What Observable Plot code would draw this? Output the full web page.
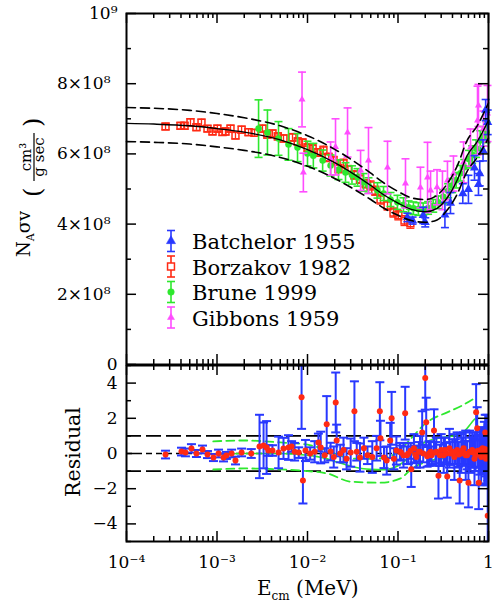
<!DOCTYPE html>
<html><head><meta charset="utf-8">
<script src="https://cdn.jsdelivr.net/npm/d3@7"></script>
<script src="https://cdn.jsdelivr.net/npm/@observablehq/plot@0.6"></script>
<style>
html,body{margin:0;padding:0;background:#fff;}
#wrap{position:relative;width:493px;height:605px;overflow:hidden;}
#wrap svg{position:absolute;left:0;overflow:visible;}
</style></head><body><div id="wrap"></div>
<script>
// ---------- data (top panel values in units of 1e8 cm^3/(g s)) ----------
const borzE = [2.70e-4,3.95e-4,4.38e-4,5.09e-4,5.93e-4,6.74e-4,7.85e-4,8.92e-4,1.01e-3,1.15e-3,1.24e-3,1.41e-3,1.60e-3,1.87e-3,2.23e-3,2.6e-3,3.18e-3,3.6e-3,4.10e-3,4.7e-3,5.43e-3,6.83e-3,7.8e-3,8.81e-3,1.0e-2,1.14e-2,1.29e-2,1.50e-2,1.71e-2,1.94e-2,2.20e-2,2.50e-2,2.8e-2,3.3e-2,3.8e-2,4.4e-2,4.97e-2,5.6e-2,6.41e-2,7.66e-2,8.92e-2,0.101,0.118,0.137];
const borzV = [6.78,6.80,6.80,6.90,6.76,6.89,6.72,6.64,6.72,6.62,6.64,6.72,6.52,6.69,6.62,6.60,6.72,6.55,6.58,6.50,6.44,6.47,6.35,6.32,6.18,6.15,6.04,6.10,5.90,5.81,5.58,5.73,5.55,5.40,5.28,5.15,5.10,4.95,4.70,4.53,4.33,4.25,4.10,4.02];
const borzErr = [0.09,0.09,0.09,0.10,0.09,0.10,0.09,0.09,0.10,0.09,0.10,0.10,0.09,0.10,0.10,0.10,0.10,0.10,0.10,0.10,0.10,0.11,0.11,0.11,0.11,0.11,0.11,0.12,0.12,0.12,0.12,0.12,0.12,0.12,0.12,0.12,0.13,0.13,0.13,0.13,0.13,0.13,0.14,0.14];

const bruneE = [2.88e-3,3.61e-3,4.78e-3,6.17e-3,7.76e-3,1.0e-2,1.16e-2,1.47e-2,1.80e-2,2.2e-2,2.63e-2,3.1e-2,3.57e-2,4.16e-2,4.72e-2,5.93e-2,6.92e-2,8.26e-2,9.86e-2,0.115,0.131,0.148,0.168,0.19,0.215,0.245,0.278,0.316,0.358,0.397,0.44,0.49,0.54,0.61,0.66,0.73,0.81,0.88,0.95];
const bruneV = [6.72,6.61,6.44,6.27,6.18,6.01,5.95,5.81,5.67,5.55,5.47,5.40,5.33,5.19,5.10,4.96,4.87,4.70,4.62,4.55,4.48,4.45,4.43,4.42,4.46,4.52,4.62,4.78,4.95,5.10,5.25,5.45,5.62,5.85,5.98,6.15,6.38,6.50,6.62];
const bruneErr = [0.82,0.64,0.48,0.45,0.40,0.35,0.35,0.30,0.30,0.28,0.28,0.26,0.25,0.25,0.22,0.22,0.20,0.20,0.20,0.20,0.18,0.18,0.18,0.18,0.18,0.18,0.18,0.20,0.20,0.20,0.22,0.22,0.22,0.25,0.25,0.25,0.28,0.28,0.30];

const gibE = [8.7e-3,9.0e-3,1.80e-2,2.04e-2,2.77e-2,3.86e-2,4.72e-2,7.66e-2,0.121,0.177,0.212,0.229,0.27,0.31,0.352,0.41,0.53,0.633,0.756,0.775,0.88,0.975];
const gibV = [7.55,5.47,5.87,6.20,6.61,5.53,5.81,5.61,5.16,5.04,5.33,4.96,5.05,4.96,5.24,5.44,5.76,6.18,6.95,7.38,6.72,7.15];
const gibErr = [0.78,0.55,0.47,0.80,0.70,0.57,0.94,0.75,0.70,0.58,1.00,0.55,0.50,0.55,0.55,0.50,0.58,0.53,0.98,0.60,0.50,0.80];

const batE = [0.127,0.145,0.19,0.2,0.33,0.38,0.52,0.6,0.7,0.775,0.8,0.87,0.93,0.98];
const batV = [4.19,4.10,4.25,4.05,4.26,4.60,4.87,4.99,5.60,5.13,5.44,6.10,7.25,6.90];
const batErr = [0.12,0.10,0.23,0.13,0.36,0.30,0.28,0.40,0.35,0.31,0.35,0.30,0.30,0.35];

// fit curve and its uncertainty band
const fitE  = [1e-4,2e-4,5e-4,1e-3,2e-3,5e-3,1e-2,2e-2,3e-2,5e-2,7e-2,0.1,0.14,0.2,0.27,0.35,0.45,0.58,0.75,1.0];
const fitMid = [6.87,6.85,6.80,6.72,6.62,6.40,6.12,5.75,5.48,5.10,4.83,4.60,4.42,4.35,4.45,4.75,5.25,5.95,6.35,6.95];
const fitHi  = [7.32,7.30,7.24,7.15,7.03,6.80,6.52,6.13,5.85,5.45,5.17,4.93,4.75,4.70,4.82,5.15,5.65,6.38,6.80,7.45];
const fitLo  = [6.35,6.33,6.28,6.20,6.10,5.90,5.65,5.30,5.05,4.70,4.45,4.25,4.10,4.05,4.12,4.40,4.85,5.50,5.90,6.45];

// residuals
const resE = [2.70e-4,4.05e-4,4.48e-4,5.22e-4,5.93e-4,6.91e-4,7.85e-4,9.14e-4,1.04e-3,1.18e-3,1.27e-3,1.45e-3,1.60e-3,1.87e-3,2.39e-3,
2.95e-3,3.27e-3,3.53e-3,3.70e-3,4.10e-3,4.79e-3,5.43e-3,6.17e-3,6.67e-3,7.2e-3,8.0e-3,8.6e-3,8.9e-3,
9.5e-3,1.07e-2,1.2e-2,1.32e-2,1.4e-2,1.55e-2,1.63e-2,1.8e-2,1.95e-2,2.05e-2,2.1e-2,2.3e-2,2.5e-2,2.7e-2,3.0e-2,3.3e-2,3.5e-2,3.8e-2,4.2e-2,4.6e-2,5.2e-2,5.8e-2,6.3e-2,6.4e-2,7.0e-2,7.5e-2,8.2e-2,8.5e-2,9.0e-2,9.6e-2,
0.105,0.115,0.12,0.13,0.14,0.15,0.16,0.175,0.185,0.2,0.205,0.22,0.235,0.25,0.265,0.28,0.3,0.32,0.34,0.35,0.37,0.4,0.42,0.45,0.48,0.5,0.53,0.56,0.6,0.62,0.66,0.7,0.73,0.75,0.78,0.8,0.83,0.86,0.9,0.92,0.94,0.96,0.98,0.99,
0.108,0.125,0.138,0.155,0.17,0.19,0.21,0.23,0.26,0.29,0.33,0.38,0.43,0.47,0.51,0.55,0.58,0.64,0.68,0.72,0.76,0.79,0.82,0.85,0.88,0.91,0.93,0.95,0.97];
const resV = [-0.06,0.11,0.06,0.29,0.0,0.23,-0.06,-0.23,0.0,-0.23,-0.11,0.0,-0.4,0.06,0.0,
0.40,0.46,0.34,0.17,0.17,0.06,0.29,0.34,0.40,0.1,0.05,3.2,-1.54,
0.17,0.0,0.1,0.63,0.34,-0.1,1.66,0.11,-0.2,2.9,0.74,0.0,0.2,-0.3,0.05,2.4,0.1,-0.23,0.3,-0.1,-0.2,0.3,2.4,0.86,-0.23,-0.4,0.74,2.0,-0.3,0.17,
0.1,-0.1,2.29,0.0,-0.9,0.3,-0.2,0.1,1.2,4.29,1.77,0.0,-0.1,1.31,0.1,-1.26,0.2,-0.1,0.0,-1.31,0.3,0.1,-0.2,0.2,-1.54,0.0,0.3,-0.1,-1.66,0.1,0.2,-0.3,2.34,1.43,-1.66,0.1,-0.2,0.3,0.0,1.2,-0.3,0.2,-3.54,0.1,
0.05,-0.1,0.15,-0.05,0.1,0.0,-0.15,0.1,0.05,-0.1,0.2,0.0,0.1,-0.05,0.15,0.0,-0.1,0.1,0.05,-0.1,0.15,0.0,0.2,-0.05,0.1,0.25,-0.1,0.05,0.15];
const resErr = [0.22,0.22,0.22,0.24,0.2,0.22,0.2,0.2,0.22,0.22,0.2,0.22,0.22,0.22,0.25,
1.8,1.3,1.5,0.3,0.3,0.9,0.6,0.7,0.3,0.5,0.3,1.8,1.3,
0.6,0.35,0.6,0.5,0.9,0.4,1.6,0.5,0.6,1.7,0.9,0.5,0.7,0.6,0.8,1.7,0.5,0.8,0.6,0.5,0.9,0.7,1.65,1.0,0.6,0.8,1.0,1.5,0.6,0.8,
0.5,0.7,1.5,0.6,1.0,0.8,0.6,0.9,1.2,1.8,1.4,0.7,0.5,1.2,0.8,1.3,0.9,1.0,0.6,1.2,1.1,0.7,1.3,1.0,1.3,1.1,0.9,1.4,1.4,1.2,1.0,1.5,1.6,1.2,1.5,1.3,1.6,1.2,1.8,1.0,1.4,2.0,2.0,1.5,
0.4,0.5,0.45,0.5,0.55,0.5,0.6,0.55,0.6,0.6,0.7,0.65,0.7,0.7,0.75,0.7,0.8,0.8,0.85,0.9,0.9,1.0,1.0,1.05,1.1,1.1,1.2,1.2,1.3];

// residual-panel fit curves
const gMidE = [9.1e-4,2e-3,5e-3,1e-2,1.5e-2,2e-2,3e-2,5e-2,7e-2,0.1,0.13,0.16,0.2,0.3,0.45,0.55,0.65,0.7];
const gMid  = [-0.05,0.0,0.0,-0.1,-0.25,-0.45,-0.72,-0.9,-0.92,-0.7,-0.25,0.25,0.65,0.9,1.05,1.3,1.75,1.95];
const gHiE  = [9.1e-4,2e-3,5e-3,1e-2,1.5e-2,2e-2,3e-2,5e-2,7e-2,0.1,0.14,0.2,0.35,0.5,0.68];
const gHi   = [0.69,0.74,0.63,0.5,0.25,0.0,-0.28,-0.3,-0.25,0.1,0.86,1.7,2.34,2.7,3.1];
const gLoE  = [9.1e-4,2e-3,5e-3,1e-2,1.67e-2,3e-2,6.4e-2,0.105,0.148,0.2,0.29,0.46,0.68];
const gLo   = [-0.91,-0.85,-0.9,-1.0,-1.14,-1.6,-1.66,-1.43,-0.8,-0.5,-0.29,-0.23,0.06];
const refBand = [-1, 1];
const refZero = [0];

// ticks and labels
const xTicks = [1e-4,1e-3,1e-2,1e-1,1];
const xLabels = ["10\u207B\u2074","10\u207B\u00B3","10\u207B\u00B2","10\u207B\u00B9","1"];
const xMinor = [2,3,4,5,6,7,8,9].flatMap(m => [1e-4,1e-3,1e-2,1e-1].map(d => m*d));
const topYTicks = [0,2,4,6,8,10];
const topYLabels = ["0","2\u00D710\u2078","4\u00D710\u2078","6\u00D710\u2078","8\u00D710\u2078","10\u2079"];
const topYMinor = [1,3,5,7,9];
const resYTicks = [-4,-2,0,2,4];
const resYLabels = ["\u22124","\u22122","0","2","4"];
const resYMinor = [-5,-3,-1,1,3,5];
const legendNames = ["Batchelor 1955","Borzakov 1982","Brune 1999","Gibbons 1959"];

// ---------- build ----------
const RED = "#ff2a14", GREEN = "#2ee82e", MAG = "#ff4cff", BLUE = "#2838ff";
const FONT = "'DejaVu Serif', serif";
const W = 493, ML = 126, MR = 5;
const topH = 365, topMT = 13, topMB = 1;
const botH = 241, botMT = 1, botMB = 64;
const pw = W - ML - MR, tph = topH - topMT - topMB, bph = botH - botMT - botMB;

const tbl = (E, V, Er) => E.map((e, i) => ({E: e, v: V[i], e: Er ? Er[i] : 0}));
const borz = tbl(borzE, borzV, borzErr), brune = tbl(bruneE, bruneV, bruneErr);
const gib = tbl(gibE, gibV, gibErr), bat = tbl(batE, batV, batErr);
const res = tbl(resE, resV, resErr);
const fMid = tbl(fitE, fitMid), fHi = tbl(fitE, fitHi), fLo = tbl(fitE, fitLo);
const rMid = tbl(gMidE, gMid), rHi = tbl(gHiE, gHi), rLo = tbl(gLoE, gLo);

const capSym = {draw(ctx, size){ const w = Math.sqrt(size/Math.PI); ctx.moveTo(-w,0); ctx.lineTo(w,0); }};
function errMarks(data, color, sw, capR, extra = {}) {
  return [
    Plot.ruleX(data, {x: "E", y1: d => d.v - d.e, y2: d => d.v + d.e, stroke: color, strokeWidth: sw, ...extra}),
    Plot.dot(data, {x: "E", y: d => d.v + d.e, symbol: capSym, r: capR, stroke: color, strokeWidth: sw, fill: "none", ...extra}),
    Plot.dot(data, {x: "E", y: d => d.v - d.e, symbol: capSym, r: capR, stroke: color, strokeWidth: sw, fill: "none", ...extra})
  ];
}
function frameTicks(ph, majY, minY) {
  const o = {stroke: "black", strokeWidth: 1.5};
  return [
    Plot.tickX(xTicks, {x: d => d, insetTop: ph - 10, ...o}),
    Plot.tickX(xTicks, {x: d => d, insetBottom: ph - 10, ...o}),
    Plot.tickX(xMinor, {x: d => d, insetTop: ph - 5, ...o}),
    Plot.tickX(xMinor, {x: d => d, insetBottom: ph - 5, ...o}),
    Plot.tickY(majY, {y: d => d, insetRight: pw - 10, ...o}),
    Plot.tickY(majY, {y: d => d, insetLeft: pw - 10, ...o}),
    Plot.tickY(minY, {y: d => d, insetRight: pw - 5, ...o}),
    Plot.tickY(minY, {y: d => d, insetLeft: pw - 5, ...o})
  ];
}
const styleObj = {fontFamily: FONT, fontSize: "17px", background: "transparent", overflow: "visible", color: "black"};
const lab = (ticks, labels) => d => labels[ticks.indexOf(d)];

const topPlot = Plot.plot({
  width: W, height: topH, marginLeft: ML, marginRight: MR, marginTop: topMT, marginBottom: topMB,
  style: styleObj,
  x: {type: "log", domain: [1e-4, 1], axis: null},
  y: {domain: [0, 10]},
  marks: [
    ...errMarks(borz, RED, 1.3, 4),
    Plot.dot(borz, {x: "E", y: "v", symbol: "square", r: 3.9, stroke: RED, strokeWidth: 1.5, fill: "none"}),
    ...errMarks(brune, GREEN, 1.6, 4),
    Plot.dot(brune, {x: "E", y: "v", symbol: "circle", r: 3.3, fill: GREEN}),
    ...errMarks(gib, MAG, 1.6, 4),
    Plot.dot(gib, {x: "E", y: "v", symbol: "triangle", r: 2.6, fill: MAG}),
    ...errMarks(bat, BLUE, 1.6, 4),
    Plot.dot(bat, {x: "E", y: "v", symbol: "triangle", r: 3.4, fill: BLUE}),
    Plot.line(fHi, {x: "E", y: "v", curve: "monotone-x", stroke: "black", strokeWidth: 1.6, strokeDasharray: "9,5"}),
    Plot.line(fLo, {x: "E", y: "v", curve: "monotone-x", stroke: "black", strokeWidth: 1.6, strokeDasharray: "9,5"}),
    Plot.line(fMid, {x: "E", y: "v", curve: "monotone-x", stroke: "black", strokeWidth: 1.4}),
    ...frameTicks(tph, topYTicks, topYMinor),
    Plot.axisY([0, 10], {tickSize: 0, tickPadding: 9, tickFormat: lab(topYTicks, topYLabels), label: null}),
    Plot.axisY([2, 4, 6, 8], {tickSize: 0, tickPadding: 16, tickFormat: lab(topYTicks, topYLabels), label: null}),
    Plot.frame({stroke: "black", strokeWidth: 2})
  ]
});

const botPlot = Plot.plot({
  width: W, height: botH, marginLeft: ML, marginRight: MR, marginTop: botMT, marginBottom: botMB,
  style: styleObj,
  x: {type: "log", domain: [1e-4, 1]},
  y: {domain: [-5, 5]},
  marks: [
    Plot.ruleY(refBand, {y: d => d, stroke: "black", strokeWidth: 1.6, strokeDasharray: "15,5"}),
    Plot.ruleY(refZero, {y: d => d, stroke: "black", strokeWidth: 1.6, strokeDasharray: "6,4"}),
    Plot.line(rHi, {x: "E", y: "v", curve: "monotone-x", stroke: GREEN, strokeWidth: 1.8, strokeDasharray: "8,5"}),
    Plot.line(rLo, {x: "E", y: "v", curve: "monotone-x", stroke: GREEN, strokeWidth: 1.8, strokeDasharray: "8,5"}),
    Plot.line(rMid, {x: "E", y: "v", curve: "monotone-x", stroke: GREEN, strokeWidth: 1.6}),
    ...errMarks(res, BLUE, 2, 4.5, {clip: true}),
    Plot.dot(res, {x: "E", y: "v", r: 3, fill: RED, clip: true}),
    ...frameTicks(bph, resYTicks, resYMinor),
    Plot.axisY(resYTicks, {tickSize: 0, tickPadding: 9, tickFormat: lab(resYTicks, resYLabels), label: null}),
    Plot.axisX(xTicks, {tickSize: 0, tickPadding: 14, tickFormat: lab(xTicks, xLabels), label: null}),
    Plot.frame({stroke: "black", strokeWidth: 2})
  ]
});

const wrap = document.getElementById("wrap");
topPlot.style.top = "0px";
botPlot.style.top = "364px";
wrap.appendChild(botPlot);
wrap.appendChild(topPlot);

// ---------- labels and legend ----------
const ts = d3.select(topPlot);
const yl = ts.append("g").attr("transform", "translate(30,257) rotate(-90)")
  .attr("font-family", FONT).attr("fill", "black").attr("text-anchor", "start");
const t1 = yl.append("text").attr("x", 0).attr("y", 0).attr("font-size", 18).attr("text-anchor", "start");
t1.append("tspan").text("N");
t1.append("tspan").attr("font-size", 11).attr("dy", 4).text("A");
t1.append("tspan").attr("dy", -4).text("\u03C3v");
yl.append("text").attr("x", 60).attr("y", 11).attr("font-size", 24).attr("text-anchor", "start").text("(");
yl.append("text").attr("x", 130).attr("y", 11).attr("font-size", 24).attr("text-anchor", "start").text(")");
yl.append("text").attr("x", 100).attr("y", 1).attr("font-size", 15).attr("text-anchor", "middle").text("cm\u00B3");
yl.append("line").attr("x1", 76).attr("x2", 124).attr("y1", 4).attr("y2", 4).attr("stroke", "black").attr("stroke-width", 1.2);
yl.append("text").attr("x", 100).attr("y", 14).attr("font-size", 15).attr("text-anchor", "middle").text("g sec");

const legColors = [BLUE, RED, GREEN, MAG];
const legSyms = [[d3.symbolTriangle, 3.4, true], [d3.symbolSquare, 3.9, false], [d3.symbolCircle, 3.3, true], [d3.symbolTriangle, 2.6, true]];
const legRows = [241, 266.5, 292, 317.5];
const lg = ts.append("g").attr("font-family", FONT).attr("text-anchor", "start");
legendNames.forEach((name, i) => {
  const y = legRows[i], c = legColors[i];
  lg.append("line").attr("x1", 171).attr("x2", 171).attr("y1", y - 10.5).attr("y2", y + 10.5).attr("stroke", c).attr("stroke-width", 1.6);
  lg.append("line").attr("x1", 167).attr("x2", 175).attr("y1", y - 10.5).attr("y2", y - 10.5).attr("stroke", c).attr("stroke-width", 1.6);
  lg.append("line").attr("x1", 167).attr("x2", 175).attr("y1", y + 10.5).attr("y2", y + 10.5).attr("stroke", c).attr("stroke-width", 1.6);
  const [sym, r, filled] = legSyms[i];
  lg.append("path").attr("transform", `translate(171,${y})`).attr("d", d3.symbol(sym, Math.PI * r * r)())
    .attr("fill", filled ? c : "white").attr("stroke", c).attr("stroke-width", filled ? 0.5 : 1.5);
  lg.append("text").attr("x", 192).attr("y", y + 8).attr("font-size", 21).attr("fill", "black")
    .attr("text-anchor", "start").text(name);
});

const bs = d3.select(botPlot);
bs.append("text").attr("transform", "translate(80,88) rotate(-90)").attr("text-anchor", "middle")
  .attr("font-family", FONT).attr("font-size", 20.5).attr("fill", "black").text("Residual");
const xl = bs.append("text").attr("x", 257).attr("y", 231).attr("text-anchor", "start")
  .attr("font-family", FONT).attr("font-size", 20).attr("fill", "black");
xl.append("tspan").text("E");
xl.append("tspan").attr("font-size", 12).attr("dy", 5).text("cm");
xl.append("tspan").attr("dy", -5).text(" (MeV)");
</script></body></html>
